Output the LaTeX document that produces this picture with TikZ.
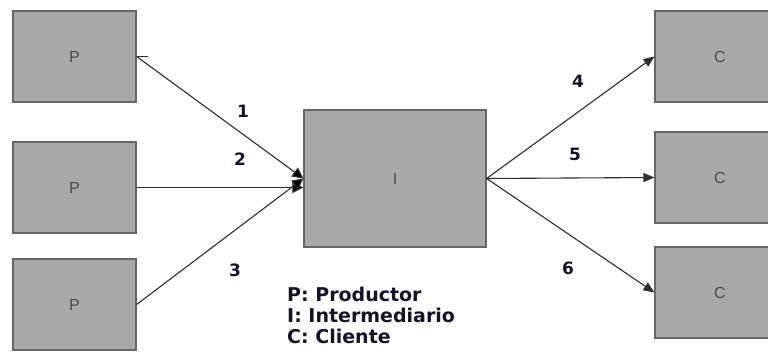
\documentclass[tikz,border=0pt]{standalone}
\usepackage{fontspec}
\setmainfont{DejaVu Sans}
\newfontfamily\boxfont{Liberation Sans}
\usetikzlibrary{arrows.meta}
\definecolor{boxfill}{HTML}{A9A9A9}
\definecolor{boxline}{HTML}{666666}
\definecolor{boxtext}{HTML}{4A4A4A}
\definecolor{flowline}{HTML}{2E2E2E}
\definecolor{labeltext}{HTML}{141428}
\begin{document}
\begin{tikzpicture}[x=1pt,y=-1pt,
  actor/.style={draw=boxline, line width=1.2pt, fill=boxfill, inner sep=0pt,
    minimum width=123pt, minimum height=91pt, font=\boxfont\fontsize{16}{18}\selectfont, text=boxtext},
  flow/.style={draw=flowline, line width=1.1pt, -{Triangle[length=11pt,width=9pt]}},
  inflow/.style={flow, -{Triangle[length=11pt,width=11pt,fill=black]}},
  num/.style={font=\bfseries\fontsize{17}{19}\selectfont, text=labeltext, inner sep=0pt}]
  \useasboundingbox (0,0) rectangle (768,363);
  \clip (0,0) rectangle (768,363);
  % producers
  \node[actor] (p1) at (74.5,56.5) {P};
  \node[actor] (p2) at (74.5,187.5) {P};
  \node[actor] (p3) at (74.5,304.5) {P};
  % intermediary
  \node[actor, minimum width=182pt, minimum height=137pt] (i) at (395,178.5) {I};
  % clients (running past the right edge)
  \node[actor, minimum width=130pt] (c1) at (720,56.5) {C};
  \node[actor, minimum width=130pt] (c2) at (720,177.5) {C};
  \node[actor, minimum width=130pt] (c3) at (720,292.5) {C};
  % flows into the intermediary
  \coordinate (tick) at ([xshift=11pt]p1.east);
  \draw[flowline, line width=1.1pt] (p1.east) -- (tick);
  \draw[inflow] (p1.east) -- (i.west);
  \draw[inflow] (p2.east) -- (p2.east -| i.west);
  \draw[inflow] (p3.east) -- (i.west);
  % flows out to the clients
  \draw[flow] (i.east) -- (c1.west);
  \draw[flow] (i.east) -- (c2.west);
  \draw[flow] (i.east) -- (c3.west);
  % flow numbers
  \node[num] (n1) at (243,111) {1};
  \node[num] (n2) at (240,159) {2};
  \node[num] (n3) at (235,270) {3};
  \node[num] (n4) at (578,81) {4};
  \node[num] (n5) at (575,154) {5};
  \node[num] (n6) at (568,268) {6};
  % legend
  \node[font=\bfseries\fontsize{19}{21}\selectfont, text=labeltext, align=left,
    anchor=north west, inner sep=0pt] (legend) at (287,287)
    {P: Productor\\I: Intermediario\\C: Cliente};
\end{tikzpicture}
\end{document}
